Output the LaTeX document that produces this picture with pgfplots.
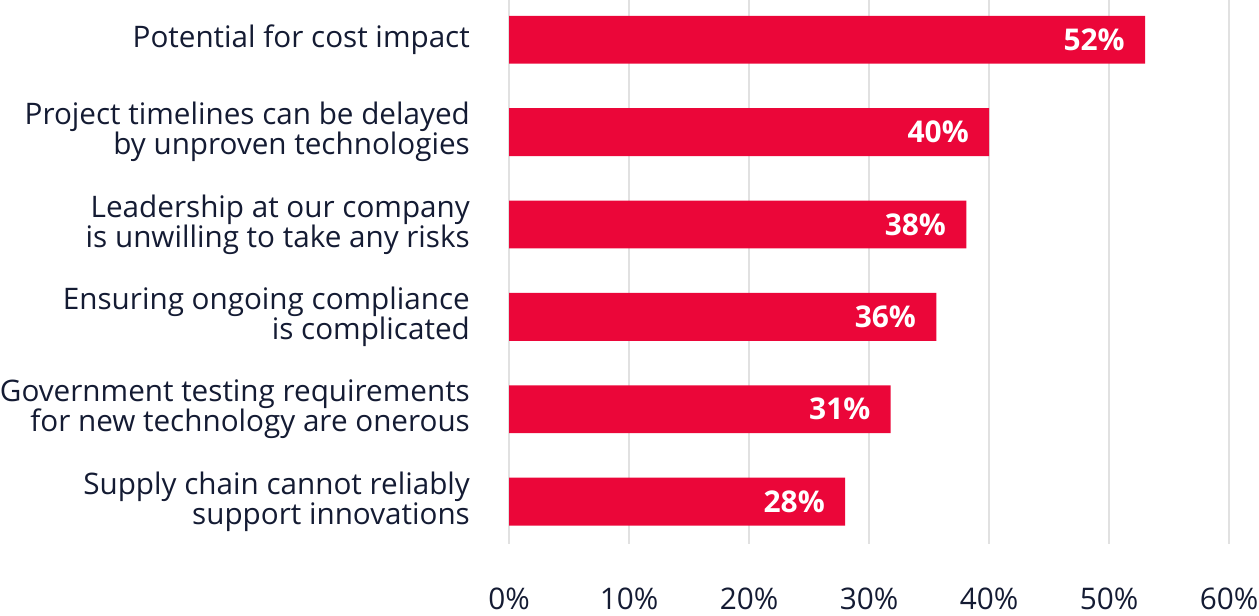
\documentclass[border=0pt]{standalone}
\usepackage{fontspec}
\setmainfont{Open Sans}
\usepackage{pgfplots}
\pgfplotsset{compat=1.18}
\usetikzlibrary{calc}
\definecolor{barred}{HTML}{EB0639}
\definecolor{navy}{HTML}{141B33}
\definecolor{gridgray}{HTML}{E1E1E1}

% bar length as drawn, printed label
\pgfplotstableread{
y x lab
0 53.0 52
1 40.0 40
2 38.1 38
3 35.6 36
4 31.8 31
5 28.0 28
}\barsdata

\begin{document}
\begin{tikzpicture}
\begin{axis}[
    scale only axis,
    width=360.5pt, height=272.5pt,
    xmin=0, xmax=60,
    ymin=-0.43, ymax=5.46,
    y dir=reverse,
    xbar, bar width=24pt, bar shift=0pt,
    axis line style={draw=none},
    major tick length=0pt,
    xmajorgrids,
    grid style={gridgray, line width=0.75pt},
    xtick={0,10,...,60},
    xticklabels={0\%,10\%,20\%,30\%,40\%,50\%,60\%},
    xticklabel style={font=\fontsize{14.9}{15}\selectfont, text=navy,
        inner sep=0pt, anchor=north, yshift=-21.5pt},
    ytick={0,...,5},
    yticklabels={
        Potential for cost impact,
        {Project timelines can be delayed\\by unproven technologies},
        {Leadership at our company\\is unwilling to take any risks},
        {Ensuring ongoing compliance\\is complicated},
        {Government testing requirements\\for new technology are onerous},
        {Supply chain cannot reliably\\support innovations}},
    yticklabel style={font=\fontsize{14.85}{15}\selectfont, text=navy,
        align=right, inner sep=0pt, anchor=east, xshift=-19.5pt},
    point meta=explicit symbolic,
]
\addplot[fill=barred, draw=none,
    nodes near coords={\pgfplotspointmeta\%},
    nodes near coords style={anchor=east, text=white, inner sep=0pt,
        xshift=-10pt, font=\fontsize{15}{15}\selectfont\bfseries}]
    table[x=x, y=y, meta=lab] {\barsdata};
\coordinate (bl) at (axis cs:0,5.46);
\coordinate (tr) at (axis cs:60,-0.43);
\end{axis}
\pgfresetboundingbox
\path ($(bl)+(-255pt,-35.5pt)$) rectangle ($(tr)+(15pt,0pt)$);
\end{tikzpicture}
\end{document}
